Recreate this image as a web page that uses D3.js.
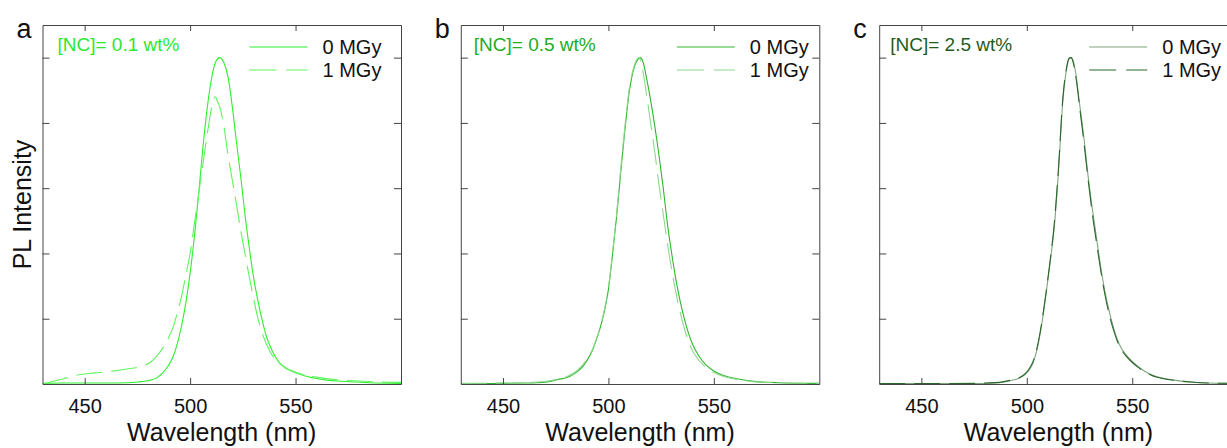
<!DOCTYPE html>
<html>
<head>
<meta charset="utf-8">
<script src="https://cdn.jsdelivr.net/npm/d3@7"></script>
<style>
body { margin: 0; background: #fff; }
svg { display: block; font-family: "Liberation Sans", Arial, sans-serif; }
</style>
</head>
<body>
<svg width="1227" height="448"></svg>
<script>
// ---- data (intensities normalised) ----
const xTicks = [450, 500, 550];
const yTicks = [0.2, 0.4, 0.6, 0.8, 1.0];
const panelLetters = ["a", "b", "c"];
const concLabels = ["[NC]= 0.1 wt%", "[NC]= 0.5 wt%", "[NC]= 2.5 wt%"];
const doseLabels = ["0 MGy", "1 MGy"];

// panel a, 0.1 wt%
const wlA0 = [430, 440, 450, 460, 470, 475, 480, 484, 487, 490, 492, 494, 496, 498, 500, 502, 504, 506, 508, 510, 512, 514, 516, 518, 520, 522, 524, 526, 528, 530, 532, 534, 536, 538, 540, 542, 545, 548, 552, 556, 560, 565, 570, 576, 585, 600];
const plA0 = [0.002, 0.003, 0.003, 0.003, 0.004, 0.006, 0.01, 0.018, 0.034, 0.06, 0.085, 0.125, 0.18, 0.25, 0.34, 0.45, 0.58, 0.72, 0.84, 0.93, 0.985, 1.0, 0.985, 0.94, 0.85, 0.74, 0.635, 0.52, 0.42, 0.33, 0.26, 0.2, 0.15, 0.115, 0.088, 0.068, 0.05, 0.04, 0.03, 0.022, 0.017, 0.012, 0.009, 0.007, 0.004, 0.002];
const wlA1 = [430, 435, 440, 443, 448, 455, 460, 465, 470, 475, 478, 481, 484, 487, 490, 492, 494, 496, 498, 500, 502, 504, 506, 508, 510, 511, 512, 513, 514, 516, 518, 520, 522, 524, 526, 528, 530, 532, 534, 536, 538, 540, 543, 546, 550, 555, 560, 570, 580, 590, 600];
const plA1 = [0.0, 0.008, 0.016, 0.022, 0.029, 0.034, 0.037, 0.041, 0.046, 0.051, 0.056, 0.066, 0.084, 0.11, 0.145, 0.175, 0.22, 0.27, 0.335, 0.4, 0.49, 0.58, 0.67, 0.76, 0.84, 0.87, 0.88, 0.865, 0.85, 0.79, 0.7, 0.625, 0.55, 0.47, 0.4, 0.33, 0.265, 0.205, 0.16, 0.125, 0.098, 0.078, 0.06, 0.047, 0.036, 0.027, 0.021, 0.013, 0.009, 0.006, 0.005];

// panel b, 0.5 wt%
const wlB0 = [430, 450, 460, 466, 472, 476, 480, 483, 486, 488, 490, 492, 494, 496, 498, 500, 502, 504, 506, 508, 510, 512, 513.5, 515, 516.5, 518, 520, 522, 524, 526, 528, 530, 532, 534, 536, 538, 540, 543, 546, 550, 555, 561, 569, 580, 600];
const plB0 = [0.001, 0.002, 0.003, 0.004, 0.007, 0.014, 0.019, 0.028, 0.042, 0.055, 0.074, 0.097, 0.13, 0.17, 0.22, 0.29, 0.4, 0.52, 0.66, 0.79, 0.9, 0.965, 0.99, 1.0, 0.985, 0.94, 0.87, 0.79, 0.7, 0.6, 0.49, 0.4, 0.32, 0.255, 0.2, 0.155, 0.12, 0.085, 0.06, 0.04, 0.025, 0.016, 0.008, 0.004, 0.002];
const wlB1 = [430, 450, 460, 466, 472, 476, 480, 483, 486, 488, 490, 492, 494, 496, 498, 500, 502, 504, 506, 508, 510, 512, 513.5, 514.5, 516, 518, 520, 522, 524, 526, 528, 530, 532, 534, 536, 538, 540, 543, 546, 550, 555, 561, 569, 580, 600];
const plB1 = [0.002, 0.003, 0.004, 0.006, 0.01, 0.015, 0.022, 0.032, 0.046, 0.06, 0.078, 0.1, 0.133, 0.172, 0.225, 0.295, 0.405, 0.53, 0.67, 0.8, 0.91, 0.97, 0.995, 1.0, 0.97, 0.89, 0.8, 0.71, 0.61, 0.52, 0.43, 0.35, 0.28, 0.22, 0.17, 0.13, 0.1, 0.072, 0.052, 0.035, 0.022, 0.014, 0.007, 0.004, 0.002];

// panel c, 2.5 wt%
const wlC0 = [430, 460, 475, 481, 487, 492, 496, 499, 501, 503, 505, 507, 509, 511, 513, 515, 517, 519, 520, 521, 522, 523.5, 525, 527, 529, 531, 533, 535, 537, 539, 541, 543, 545, 547, 549.5, 553, 559, 565, 570, 578, 586, 600];
const plC0 = [0.001, 0.001, 0.001, 0.002, 0.004, 0.01, 0.017, 0.028, 0.042, 0.065, 0.11, 0.18, 0.27, 0.37, 0.48, 0.65, 0.86, 0.97, 0.995, 1.0, 0.99, 0.94, 0.86, 0.76, 0.64, 0.54, 0.45, 0.36, 0.285, 0.225, 0.175, 0.135, 0.108, 0.09, 0.072, 0.052, 0.028, 0.017, 0.012, 0.006, 0.003, 0.002];
const wlC1 = [430, 460, 475, 481, 487, 492, 496, 499, 501, 503, 505, 507, 509, 511, 513, 515, 517, 519, 520, 521, 522, 523.5, 525, 527, 529, 531, 533, 535, 537, 539, 541, 543, 545, 547, 549.5, 553, 559, 565, 570, 578, 586, 600];
const plC1 = [0.001, 0.001, 0.002, 0.003, 0.005, 0.011, 0.018, 0.03, 0.045, 0.07, 0.115, 0.185, 0.275, 0.375, 0.49, 0.66, 0.87, 0.975, 0.998, 1.0, 0.985, 0.93, 0.85, 0.745, 0.63, 0.525, 0.435, 0.35, 0.275, 0.215, 0.168, 0.13, 0.104, 0.086, 0.069, 0.05, 0.027, 0.016, 0.011, 0.006, 0.003, 0.002];

const panels = [
  { wl: [wlA0, wlA1], pl: [plA0, plA1] },
  { wl: [wlB0, wlB1], pl: [plB0, plB1] },
  { wl: [wlC0, wlC1], pl: [plC0, plC1] }
];

// ---- styles ----
const lineColors = [["#2cf02c", "#60f560"], ["#2fb82f", "#8fd68f"], ["#7ea67e", "#2b662b"]];
const noteColors = ["#2ee82e", "#22ad22", "#1f5c1f"];
const dash = "26,9";

const svg = d3.select("svg");
const panelLeft = [42.5, 460.8, 879.2];
const panelW = 358.5, plotTop = 25, innerH = 359;
const noteDx = [15, 13, 11];
const legendDx = [207, 216, 210];

panels.forEach((p, i) => {
  const left = panelLeft[i];
  const g = svg.append("g").attr("transform", `translate(${left},${plotTop})`);

  const x = d3.scaleLinear().domain([430, 600]).range([0, panelW]);
  const y = d3.scaleLinear().domain([0, 1.1]).range([innerH, 0]);

  g.append("clipPath").attr("id", "clip" + i)
    .append("rect").attr("width", panelW).attr("height", innerH);

  const line = d3.line()
    .x(d => x(d[0]))
    .y(d => y(d[1]))
    .curve(d3.curveMonotoneX);

  // data lines: solid 0 MGy, dashed 1 MGy
  [0, 1].forEach(s => {
    const pts = p.wl[s].map((w, k) => [w, p.pl[s][k]]);
    g.append("path")
      .datum(pts)
      .attr("clip-path", `url(#clip${i})`)
      .attr("fill", "none")
      .attr("stroke", lineColors[i][s])
      .attr("stroke-width", 1.1)
      .attr("stroke-dasharray", s === 1 ? dash : null)
      .attr("d", line);
  });

  // axes, all ticks pointing inwards
  const bottomAx = g.append("g")
    .attr("transform", `translate(0,${innerH})`)
    .attr("color", "#444")
    .call(d3.axisBottom(x).tickValues(xTicks).tickSize(-6).tickSizeOuter(0).tickPadding(15));
  bottomAx.selectAll("text").attr("fill", "#111").style("font-size", "20px");

  g.append("g").attr("color", "#444")
    .call(d3.axisTop(x).tickValues(xTicks).tickSize(-6).tickSizeOuter(0).tickFormat(""));
  g.append("g").attr("color", "#444")
    .call(d3.axisLeft(y).tickValues(yTicks).tickSize(-7).tickSizeOuter(0).tickFormat(""));
  g.append("g").attr("color", "#444")
    .attr("transform", `translate(${panelW},0)`)
    .call(d3.axisRight(y).tickValues(yTicks).tickSize(-7).tickSizeOuter(0).tickFormat(""));

  // x label
  g.append("text")
    .attr("x", panelW / 2)
    .attr("y", 441 - plotTop)
    .attr("text-anchor", "middle")
    .attr("fill", "#111")
    .style("font-size", "25px")
    .text("Wavelength (nm)");

  // concentration note
  g.append("text")
    .attr("x", noteDx[i])
    .attr("y", 51 - plotTop)
    .attr("fill", noteColors[i])
    .style("font-size", "19px")
    .text(concLabels[i]);

  // legend
  doseLabels.forEach((lab, s) => {
    const ly = 47 + s * 23 - plotTop;
    g.append("line")
      .attr("x1", legendDx[i]).attr("x2", legendDx[i] + 58)
      .attr("y1", ly).attr("y2", ly)
      .attr("stroke", lineColors[i][s])
      .attr("stroke-width", 1.1)
      .attr("stroke-dasharray", s === 1 ? "27,10" : null);
    g.append("text")
      .attr("x", legendDx[i] + 73)
      .attr("y", ly + 7)
      .attr("fill", "#111")
      .style("font-size", "20px")
      .text(lab);
  });

  // panel letter
  svg.append("text")
    .attr("x", left - 26)
    .attr("y", 38)
    .attr("fill", "#111")
    .style("font-size", "27px")
    .text(panelLetters[i]);
});

// y label (first panel only)
svg.append("text")
  .attr("transform", `translate(31,${plotTop + innerH / 2}) rotate(-90)`)
  .attr("text-anchor", "middle")
  .attr("fill", "#111")
  .style("font-size", "25px")
  .text("PL Intensity");
</script>
</body>
</html>
